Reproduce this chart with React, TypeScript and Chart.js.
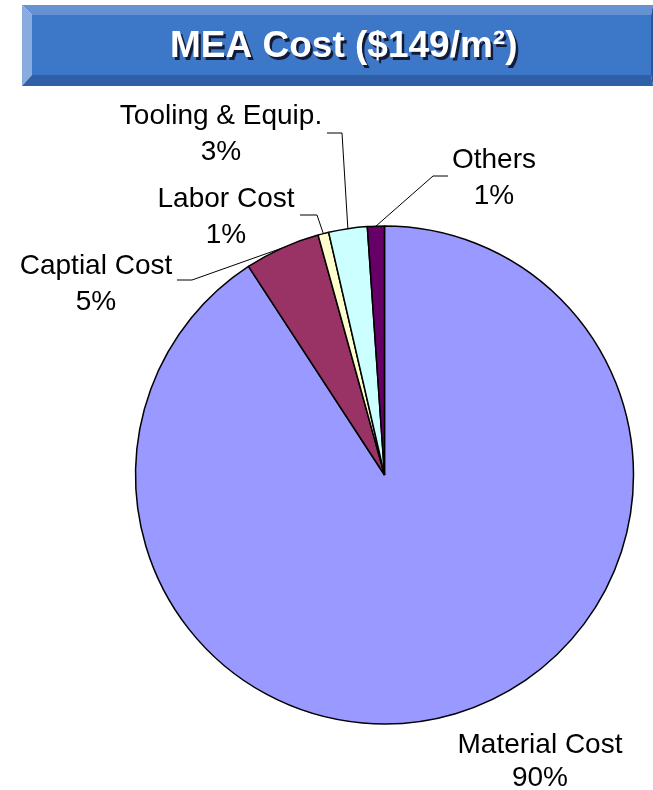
import React, { useEffect, useRef } from "react";
import { Chart, registerables } from "chart.js";

Chart.register(...registerables);

// ---- data ----
const categories = ["Material Cost", "Captial Cost", "Labor Cost", "Tooling & Equip.", "Others"];
const costShares = [90.8, 4.9, 0.7, 2.5, 1.1];
const percentLabels = ["90%", "5%", "1%", "3%", "1%"];
const sliceColors = ["#9999ff", "#993366", "#ffffcc", "#ccffff", "#660066"];
const titleText = "MEA Cost ($149/m\u00B2)";

// ---- layout (relative to pie centre) ----
// tx, ty: label centre x / first-line baseline; leader: elbow and end points
const labelLayout: { tx: number; ty: number; leader: number[][] | null }[] = [
  { tx: 155.5, ty: 278, leader: null },
  { tx: -288.5, ty: -201, leader: [[-192.5, -195], [-207.5, -195]] },
  { tx: -158.5, ty: -268, leader: [[-67.5, -260], [-84.5, -260]] },
  { tx: -163.5, ty: -351, leader: [[-42.5, -342], [-57.5, -342]] },
  { tx: 109.5, ty: -307, leader: [[48.5, -299], [63.5, -299]] },
];
const LINE_GAP = 36;
const LABEL_FONT = "28px 'Liberation Sans', Arial, sans-serif";

const W = 653;
const H = 790;

const decorations = {
  id: "decorations",
  beforeDraw(chart: any) {
    const ctx = chart.ctx as CanvasRenderingContext2D;
    ctx.save();
    ctx.fillStyle = "#ffffff";
    ctx.fillRect(0, 0, W, H);
    // beveled banner
    const ox1 = 22, oy1 = 5, ox2 = 653, oy2 = 86;
    const ix1 = 32, iy1 = 15, ix2 = 651, iy2 = 75;
    const poly = (pts: number[][], color: string) => {
      ctx.beginPath();
      ctx.moveTo(pts[0][0], pts[0][1]);
      for (let i = 1; i < pts.length; i++) ctx.lineTo(pts[i][0], pts[i][1]);
      ctx.closePath();
      ctx.fillStyle = color;
      ctx.fill();
    };
    poly([[ox1, oy1], [ox2, oy1], [ix2, iy1], [ix1, iy1]], "#6692d4");
    poly([[ox1, oy1], [ix1, iy1], [ix1, iy2], [ox1, oy2]], "#88abe0");
    poly([[ox1, oy2], [ix1, iy2], [ix2, iy2], [ox2, oy2]], "#2f5fa6");
    poly([[ox2, oy1], [ox2, oy2], [ix2, iy2], [ix2, iy1]], "#2a5596");
    ctx.fillStyle = "#3d77c7";
    ctx.fillRect(ix1, iy1, ix2 - ix1, iy2 - iy1);
    // title
    ctx.font = "bold 37px 'Liberation Sans', Arial, sans-serif";
    ctx.textAlign = "left";
    ctx.textBaseline = "alphabetic";
    ctx.fillStyle = "rgba(10,10,30,0.85)";
    ctx.fillText(titleText, 172.5, 59.5);
    ctx.fillStyle = "#ffffff";
    ctx.fillText(titleText, 170, 57);
    ctx.restore();
  },
  afterDatasetsDraw(chart: any) {
    const ctx = chart.ctx as CanvasRenderingContext2D;
    const meta = chart.getDatasetMeta(0);
    ctx.save();
    meta.data.forEach((arc: any, i: number) => {
      const p = arc.getProps(["x", "y", "startAngle", "endAngle", "outerRadius"], true);
      const cx = p.x, cy = p.y;
      const mid = (p.startAngle + p.endAngle) / 2;
      const rx = cx + Math.cos(mid) * p.outerRadius;
      const ry = cy + Math.sin(mid) * p.outerRadius;
      const lay = labelLayout[i];
      if (lay.leader) {
        ctx.beginPath();
        ctx.moveTo(rx, ry);
        lay.leader.forEach((pt) => ctx.lineTo(cx + pt[0], cy + pt[1]));
        ctx.strokeStyle = "#000000";
        ctx.lineWidth = 1;
        ctx.stroke();
      }
      ctx.font = LABEL_FONT;
      ctx.fillStyle = "#000000";
      ctx.textAlign = "center";
      ctx.textBaseline = "alphabetic";
      ctx.fillText(categories[i], cx + lay.tx, cy + lay.ty);
      ctx.fillText(percentLabels[i], cx + lay.tx, cy + lay.ty + (i === 0 ? LINE_GAP - 3 : LINE_GAP));
    });
    ctx.restore();
  },
};

export default function App() {
  const canvasRef = useRef<HTMLCanvasElement | null>(null);

  useEffect(() => {
    if (!canvasRef.current) return;
    const chart = new Chart(canvasRef.current, {
      type: "pie",
      data: {
        labels: categories,
        datasets: [
          {
            data: costShares,
            backgroundColor: sliceColors,
            borderColor: "#000000",
            borderWidth: 1.5,
          },
        ],
      },
      options: {
        responsive: false,
        animation: false,
        radius: 249,
        layout: { padding: { left: 126, right: 10, top: 170, bottom: 10 } },
        plugins: {
          legend: { display: false },
          tooltip: { enabled: false },
          title: { display: false },
        },
      } as any,
      plugins: [decorations],
    });
    return () => chart.destroy();
  }, []);

  return (
    <div style={{ position: "absolute", left: 0, top: 0, width: W, height: H, background: "#fff" }}>
      <canvas ref={canvasRef} width={W} height={H} style={{ display: "block" }} />
    </div>
  );
}
